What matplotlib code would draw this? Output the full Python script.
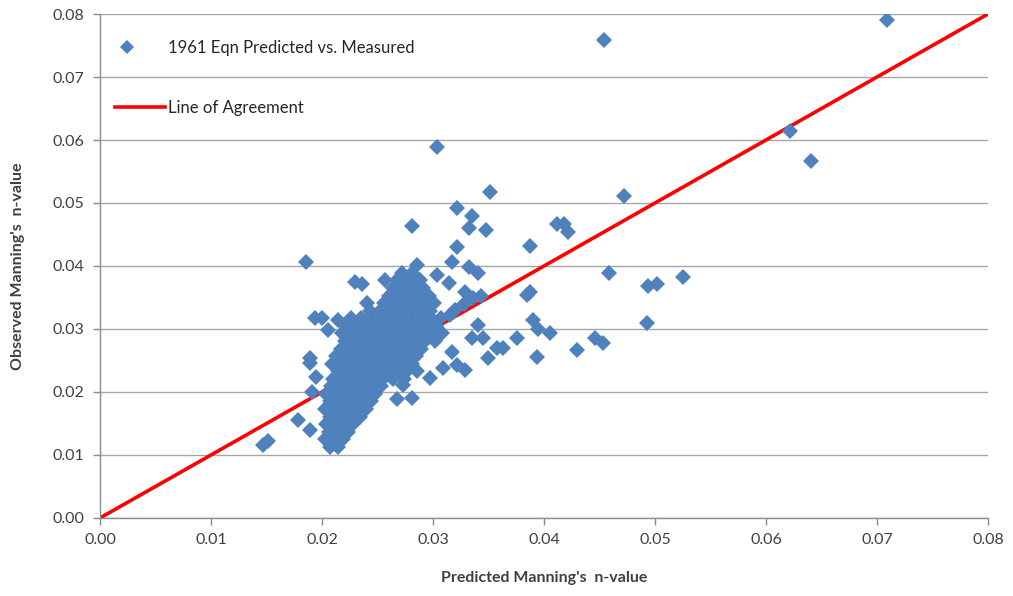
import matplotlib
matplotlib.use("Agg")
import matplotlib.pyplot as plt
from matplotlib.lines import Line2D
from matplotlib.legend_handler import HandlerLine2D

# ==========================================
# DATA
# ==========================================
# scattered points (predicted, observed)
outlier_pts = [
    (0.0709, 0.0790), (0.0454, 0.0759), (0.0622, 0.0614), (0.0641, 0.0567),
    (0.0304, 0.0589), (0.0351, 0.0517), (0.0472, 0.0511), (0.0525, 0.0383),
    (0.0502, 0.0371), (0.0494, 0.0368), (0.0493, 0.0310), (0.0459, 0.0389),
    (0.0453, 0.0278), (0.0446, 0.0286), (0.0430, 0.0267), (0.0412, 0.0467),
    (0.0418, 0.0467), (0.0422, 0.0454), (0.0387, 0.0432), (0.0387, 0.0359),
    (0.0385, 0.0354), (0.0390, 0.0314), (0.0395, 0.0300), (0.0405, 0.0294),
    (0.0394, 0.0256), (0.0376, 0.0286), (0.0363, 0.0270), (0.0358, 0.0270),
    (0.0350, 0.0254), (0.0281, 0.0463), (0.0322, 0.0492), (0.0335, 0.0479),
    (0.0332, 0.0460), (0.0348, 0.0457), (0.0322, 0.0430), (0.0186, 0.0406),
    (0.0230, 0.0375), (0.0236, 0.0371), (0.0286, 0.0402), (0.0304, 0.0386),
    (0.0314, 0.0373), (0.0317, 0.0406), (0.0332, 0.0398), (0.0341, 0.0389),
    (0.0329, 0.0359), (0.0320, 0.0330), (0.0328, 0.0340), (0.0336, 0.0349),
    (0.0343, 0.0353), (0.0315, 0.0322), (0.0341, 0.0306), (0.0335, 0.0286),
    (0.0345, 0.0286), (0.0317, 0.0263), (0.0309, 0.0238), (0.0322, 0.0243),
    (0.0329, 0.0235), (0.0297, 0.0222), (0.0273, 0.0211), (0.0268, 0.0189),
    (0.0281, 0.0190), (0.0200, 0.0317), (0.0205, 0.0298), (0.0214, 0.0314),
    (0.0194, 0.0318), (0.0189, 0.0254), (0.0189, 0.0246), (0.0195, 0.0224),
    (0.0191, 0.0200), (0.0178, 0.0156), (0.0189, 0.0140), (0.0151, 0.0122),
    (0.0147, 0.0116), (0.0241, 0.0341), (0.0223, 0.0311), (0.0257, 0.0378),
]

# dense cluster: observed value and the predicted values on that level
cluster_rows = [
    (0.0113, [0.0207, 0.0214]),
    (0.0125, [0.0203, 0.0211, 0.0219]),
    (0.0137, [0.0206, 0.0215, 0.0223]),
    (0.0149, [0.0204, 0.0212, 0.0220, 0.0228]),
    (0.0161, [0.0207, 0.0216, 0.0225, 0.0234]),
    (0.0173, [0.0203, 0.0212, 0.0221, 0.0230, 0.0240]),
    (0.0185, [0.0207, 0.0216, 0.0225, 0.0235, 0.0244]),
    (0.0197, [0.0204, 0.0212, 0.0221, 0.0230, 0.0239, 0.0248]),
    (0.0209, [0.0208, 0.0217, 0.0226, 0.0235, 0.0244, 0.0253]),
    (0.0221, [0.0210, 0.0219, 0.0228, 0.0237, 0.0246, 0.0255, 0.0264, 0.0274]),
    (0.0233, [0.0214, 0.0223, 0.0232, 0.0241, 0.0250, 0.0259, 0.0268, 0.0277, 0.0286]),
    (0.0245, [0.0209, 0.0218, 0.0227, 0.0236, 0.0245, 0.0254, 0.0263, 0.0272, 0.0281]),
    (0.0257, [0.0213, 0.0222, 0.0231, 0.0240, 0.0249, 0.0258, 0.0267, 0.0276, 0.0285]),
    (0.0269, [0.0217, 0.0226, 0.0235, 0.0244, 0.0253, 0.0262, 0.0271, 0.0280, 0.0289]),
    (0.0281, [0.0221, 0.0230, 0.0239, 0.0248, 0.0257, 0.0266, 0.0275, 0.0284, 0.0293, 0.0302]),
    (0.0293, [0.0218, 0.0227, 0.0236, 0.0245, 0.0254, 0.0263, 0.0272, 0.0281, 0.0290, 0.0299, 0.0308]),
    (0.0305, [0.0222, 0.0231, 0.0240, 0.0249, 0.0258, 0.0267, 0.0276, 0.0285, 0.0294, 0.0303]),
    (0.0317, [0.0226, 0.0235, 0.0244, 0.0253, 0.0262, 0.0271, 0.0280, 0.0289, 0.0298, 0.0307]),
    (0.0329, [0.0243, 0.0252, 0.0261, 0.0270, 0.0279, 0.0288, 0.0297]),
    (0.0341, [0.0256, 0.0265, 0.0274, 0.0283, 0.0292, 0.0301]),
    (0.0353, [0.0260, 0.0269, 0.0278, 0.0287, 0.0296]),
    (0.0365, [0.0264, 0.0273, 0.0282, 0.0291]),
    (0.0377, [0.0268, 0.0277, 0.0288]),
    (0.0389, [0.0272, 0.0281]),
]

agree_x = [0.0, 0.08]
agree_y = [0.0, 0.08]

tick_vals = [0.00, 0.01, 0.02, 0.03, 0.04, 0.05, 0.06, 0.07, 0.08]

pred_n = [p for p, o in outlier_pts]
obs_n = [o for p, o in outlier_pts]
for obs, preds in cluster_rows:
    for p in preds:
        pred_n.append(p)
        obs_n.append(obs)


# legend marker sits on the left part of the handle, like in Excel
class LeftMarkerHandler(HandlerLine2D):
    def get_xdata(self, legend, xdescent, ydescent, width, height, fontsize):
        xdata = [-xdescent + 0.24 * width]
        return xdata, xdata


# ==========================================
# PLOT
# ==========================================
plt.rcParams['font.family'] = ['Lato', 'DejaVu Sans']

MARKER_SIZE = 8.3

fig = plt.figure(figsize=(10.13, 5.96), dpi=100)
ax = fig.add_axes([0.0987, 0.1309, 0.8766, 0.8456])

ax.plot(agree_x, agree_y, color='#FF0000', linewidth=2.6, zorder=2, solid_capstyle='butt')
ax.plot(pred_n, obs_n, linestyle='none', marker='D', markersize=MARKER_SIZE,
        color='#4F81BD', markeredgewidth=0, zorder=3)

ax.set_xlim(0, 0.08)
ax.set_ylim(0, 0.08)
ax.set_xticks(tick_vals)
ax.set_yticks(tick_vals)
ax.set_xticklabels([f"{v:.2f}" for v in tick_vals])
ax.set_yticklabels([f"{v:.2f}" for v in tick_vals])
ax.tick_params(axis='both', labelsize=11.5, colors='#404040', length=5, width=1,
               direction='out', pad=6)
ax.tick_params(axis='both', color='#8C8C8C')

ax.grid(True, axis='y', color='#A6A6A6', linewidth=1.0)
ax.set_axisbelow(True)
for side in ['top', 'right']:
    ax.spines[side].set_visible(False)
for side in ['left', 'bottom']:
    ax.spines[side].set_color('#8C8C8C')
    ax.spines[side].set_linewidth(1.0)

ax.set_xlabel("Predicted Manning's  n-value", fontsize=11.5, fontweight='bold',
              color='#404040', labelpad=17)
ax.set_ylabel("Observed Manning's  n-value", fontsize=11.5, fontweight='bold',
              color='#404040', labelpad=20)

marker_handle = Line2D([], [], linestyle='none', marker='D', markersize=MARKER_SIZE - 1,
                       color='#4F81BD', markeredgewidth=0)
line_handle = Line2D([], [], color='#FF0000', linewidth=2.6)
leg = ax.legend([marker_handle, line_handle],
                ['1961 Eqn Predicted vs. Measured', 'Line of Agreement'],
                loc='upper left', bbox_to_anchor=(0.0, 0.978), frameon=False,
                fontsize=12, handlelength=3.0, handletextpad=0.2,
                labelspacing=2.65,
                handler_map={marker_handle: LeftMarkerHandler(numpoints=2)})
for t in leg.get_texts():
    t.set_color('#262626')

plt.savefig("out.png", dpi=100)
plt.close()
